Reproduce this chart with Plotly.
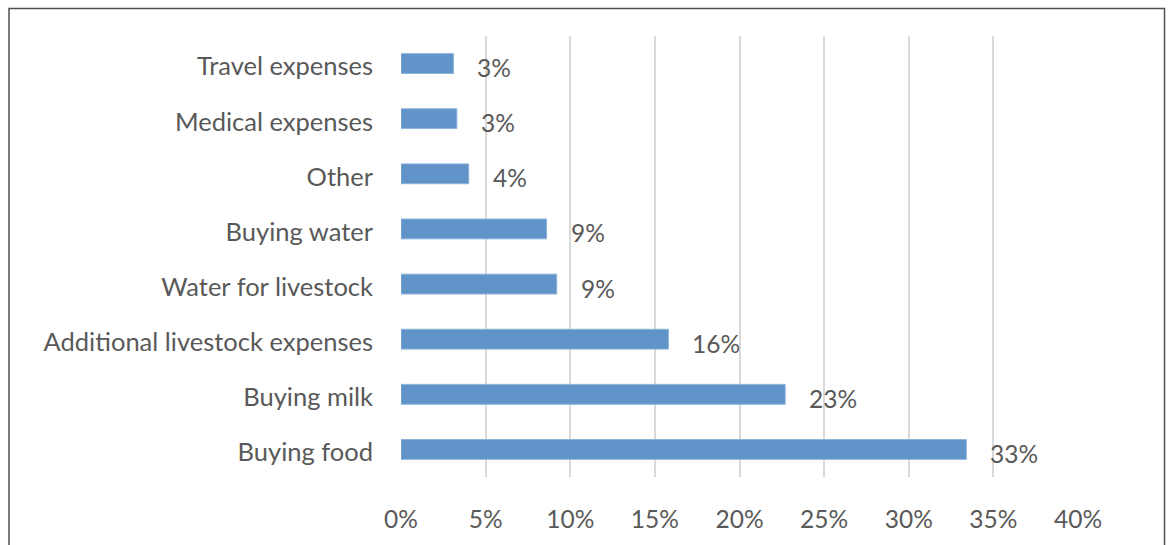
import plotly.graph_objects as go

categories = ["Buying food", "Buying milk", "Additional livestock expenses",
              "Water for livestock", "Buying water", "Other",
              "Medical expenses", "Travel expenses"]
values = [33.4, 22.7, 15.8, 9.2, 8.6, 4.0, 3.3, 3.1]
labels = ["33%", "23%", "16%", "9%", "9%", "4%", "3%", "3%"]
tick_vals = [0, 5, 10, 15, 20, 25, 30, 35, 40]
tick_text = ["0%", "5%", "10%", "15%", "20%", "25%", "30%", "35%", "40%"]

FONT = "Lato, 'Open Sans', sans-serif"
GRAY = "#595959"
FS = 24.5

fig = go.Figure()
fig.add_trace(go.Bar(
    x=values, y=categories, orientation="h",
    marker=dict(color="#6094c9", line=dict(color="#8db2da", width=1)),
    width=0.36, hoverinfo="skip",
))

for v, c, t in zip(values, categories, labels):
    fig.add_annotation(x=v, y=c, text=t, showarrow=False, xanchor="left",
                       xshift=22, yshift=-4,
                       font=dict(family=FONT, size=FS, color=GRAY))

fig.add_shape(type="rect", xref="paper", yref="paper",
              x0=-0.579, x1=1.1278, y0=-0.3, y1=1.0626,
              line=dict(color="#505050", width=1.5), fillcolor="rgba(0,0,0,0)",
              layer="below")

fig.update_layout(
    width=1169, height=545,
    margin=dict(l=401, r=91, t=36, b=62),
    plot_bgcolor="white", paper_bgcolor="white",
    showlegend=False,
    font=dict(family=FONT, size=FS, color=GRAY),
    xaxis=dict(range=[0, 40], tickvals=tick_vals, ticktext=tick_text,
               showgrid=True, gridcolor="#d9d9d9", gridwidth=1.5,
               zeroline=False, showline=False, ticks="",
               ticklabelstandoff=25, fixedrange=True),
    yaxis=dict(categoryorder="array", categoryarray=categories,
               showgrid=False, zeroline=False, showline=False, ticks="",
               ticklabelstandoff=27, ticklabelshift=3,
               tickfont=dict(family=FONT, size=25.5, color=GRAY),
               range=[-0.5, 7.5], fixedrange=True),
)

fig.write_html("out.html",
               config={"displayModeBar": False},
               post_script="document.body.style.margin='0';document.body.style.overflow='hidden';")
